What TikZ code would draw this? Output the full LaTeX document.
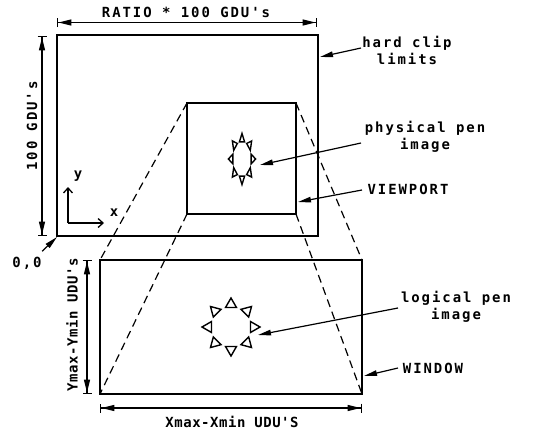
\documentclass[tikz,border=0pt]{standalone}
\usepackage{fontspec}
\newfontfamily\plotfont[LetterSpace=14]{DejaVu Sans Mono}
\newfontfamily\plotfontn[LetterSpace=4]{DejaVu Sans Mono}
\usetikzlibrary{arrows.meta}
\begin{document}
\begin{tikzpicture}[x=1bp,y=-1bp,line width=1.2bp,
  lbl/.style={font=\plotfont\bfseries\fontsize{14}{17}\selectfont,inner sep=0,align=center},
  lbln/.style={font=\plotfontn\bfseries\fontsize{14}{17}\selectfont,inner sep=0,align=center},
  ptr/.style={-{Triangle[length=13bp,width=5.5bp]}},
  axis/.style={-{Straight Barb[length=5bp,width=9bp,line width=1.3bp]}},
  dimline/.style={{Bar[width=9bp,line width=1.4bp]Triangle[length=13bp,width=6bp]}-{Triangle[length=13bp,width=6bp]Bar[width=9bp,line width=1.4bp]}},
  rect/.style={draw,inner sep=0,outer sep=0},
  dashline/.style={dash pattern=on 8bp off 5bp}
]
\useasboundingbox (0,0) rectangle (533,430);
% rectangles
\node[rect,line width=2.8bp,minimum width=261bp,minimum height=201bp] (screen) at (187.5,135.5) {};
\node[rect,minimum width=109bp,minimum height=111bp] (viewport) at (241.5,158.5) {};
\node[rect,minimum width=262bp,minimum height=134bp] (window) at (231,327) {};
% dashed projection lines
\draw[dashline] (viewport.north west) -- (window.north west);
\draw[dashline] (viewport.south west) -- (window.south west);
\draw[dashline] (viewport.north east) -- (window.north east);
\draw[dashline] (viewport.south east) -- (window.south east);
% dimension lines
\coordinate (rt1) at (57,22.5); \coordinate (rt2) at (317,22.5);
\draw[dimline] (rt1) -- (rt2);
\node[lbl] (ratio) at (186,12.5) {RATIO * 100 GDU's};
\coordinate (gd1) at (42,36); \coordinate (gd2) at (42,236);
\draw[dimline] (gd1) -- (gd2);
\node[lbl,rotate=90] (gdu) at (32,126) {100 GDU's};
\coordinate (ym1) at (87,260); \coordinate (ym2) at (87,394);
\draw[dimline] (ym1) -- (ym2);
\node[lbln,rotate=90] (ymax) at (72,325) {Ymax-Ymin UDU's};
\coordinate (xm1) at (100,408); \coordinate (xm2) at (362,408);
\draw[dimline] (xm1) -- (xm2);
\node[lbln] (xmax) at (232,422) {Xmax-Xmin UDU'S};
% axes
\coordinate (org) at (68,223);
\coordinate (xend) at (104,223);
\coordinate (yend) at (68,187);
\draw[axis] (org) -- (xend);
\draw[axis] (org) -- (yend);
\node[lbl] (xl) at (114,213) {x};
\node[lbl] (yl) at (78,176) {y};
\node[lbl] (zero) at (27,263) {0,0};
\coordinate (zt) at (57,237);
\draw[ptr] (zero.north east) ++(0,-5) -- (zt);
% labels
\node[lbl] (hard) at (407,50) {hard clip\\limits};
\coordinate (hardt) at (320,57);
\draw[ptr] (361,48) -- (hardt);
\node[lbl] (phys) at (425,137) {physical pen\\image};
\coordinate (physt) at (260,165);
\draw[ptr] (361,143) -- (physt);
\node[lbl] (vp) at (408,189) {VIEWPORT};
\coordinate (vpt) at (298,202);
\draw[ptr] (362,190) -- (vpt);
\node[lbl] (log) at (456,307) {logical pen\\image};
\coordinate (logt) at (258,335);
\draw[ptr] (398,308) -- (logt);
\node[lbl] (win) at (433,368) {WINDOW};
\coordinate (wint) at (364,376);
\draw[ptr] (398,368) -- (wint);
% pen images
\foreach \cx/\cy/\sx/\sy in {231/327/1/1, 242/159/0.47/0.88}{
  \begin{scope}[shift={(\cx,\cy)},xscale=\sx,yscale=\sy]
    \foreach \a in {0,45,...,315}{
      \draw[line width=1.4bp,line join=miter] (\a:23) ++(\a:6) -- ++(\a+150:11) -- ++(\a+270:11) -- cycle;
    }
  \end{scope}
}
\end{tikzpicture}
\end{document}
